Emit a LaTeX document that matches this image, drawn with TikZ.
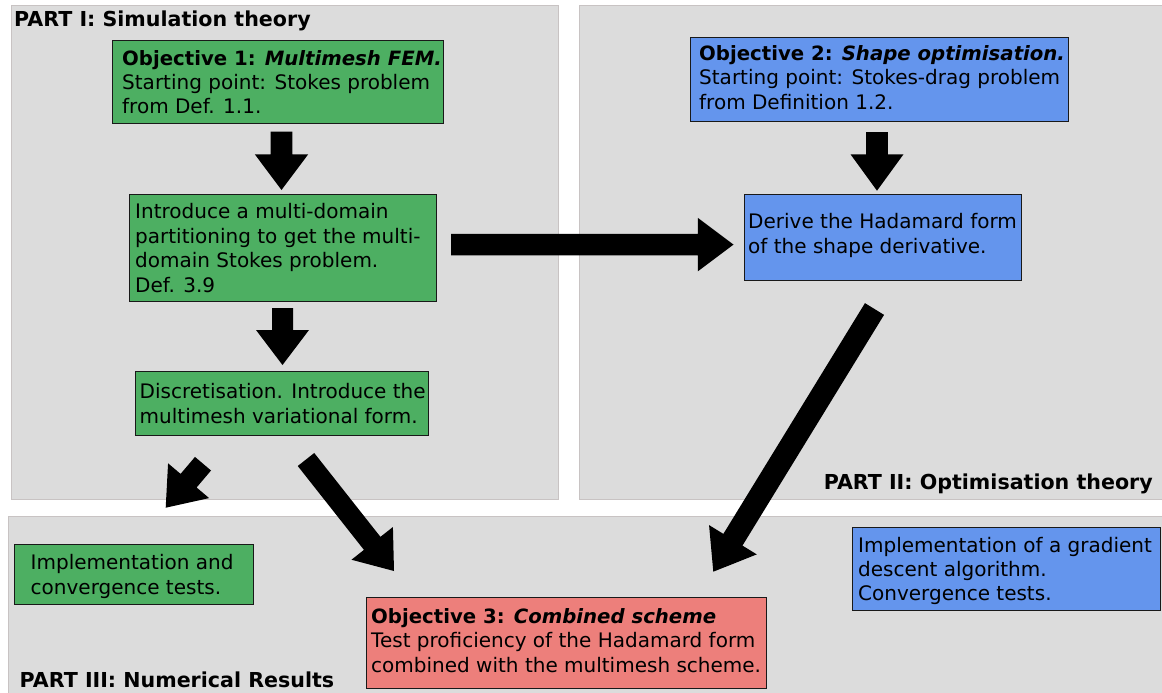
\documentclass[tikz,border=0pt]{standalone}
\usepackage{fontspec}
\setmainfont{DejaVu Sans}
\usetikzlibrary{calc}
\definecolor{panelfill}{HTML}{DCDCDC}
\definecolor{panelline}{HTML}{C8C3C3}
\definecolor{boxgreen}{HTML}{4DAF62}
\definecolor{boxblue}{HTML}{6495ED}
\definecolor{boxred}{HTML}{ED7F7B}
\newcommand\blockarrow[5]{%
  \coordinate (hb) at ($(#2)!#5!(#1)$);
  \fill[black] ($(#1)!#3!90:(#2)$) -- ($(hb)!#3!90:(#2)$) -- ($(hb)!#4!90:(#2)$) -- (#2)
    -- ($(hb)!#4!-90:(#2)$) -- ($(hb)!#3!-90:(#2)$) -- ($(#1)!#3!-90:(#2)$) -- cycle;}
\newcommand\lines[1]{\begin{tabular}{@{}l@{}}#1\end{tabular}}
\newcommand\ttl[1]{{\fontsize{19.7}{24.4}\selectfont\bfseries #1}}
\begin{document}
\begin{tikzpicture}[x=1pt,y=-1pt,
  panel/.style={draw=panelline, fill=panelfill, line width=1pt},
  box/.style={draw=black!90, line width=1.2pt, anchor=north west, inner sep=0pt},
  txt/.style={anchor=west, inner sep=0pt, yshift=-2.5pt, font=\fontsize{20}{24.4}\selectfont, align=left},
  lbl/.style={inner sep=0pt, font=\bfseries\fontsize{20.6}{24.4}\selectfont}]
\fill[white] (0,0) rectangle (1162,693);
\useasboundingbox (0,0) rectangle (1162,693);
% panels
\draw[panel] (11,6) rectangle (558,499);
\draw[panel] (579,6) rectangle (1163,499);
\draw[panel] (8,516) rectangle (1163,694);
\node[lbl, anchor=base west] (p1) at (14,26.8) {PART I: Simulation theory};
\node[lbl, anchor=base east] (p2) at (1153,489) {PART II: Optimisation theory};
\node[lbl, anchor=base west] (p3) at (19.5,687.5) {PART III: Numerical Results};
% boxes
\node[box, fill=boxgreen, minimum width=331pt, minimum height=83pt] (obj1) at (112,40) {};
\node[txt] (obj1t) at ([xshift=10pt]obj1.west) {\lines{\ttl{Objective 1: \textit{Multimesh FEM.}}\\ Starting point: Stokes problem\\ from Def. 1.1.}};
\node[box, fill=boxblue, minimum width=378pt, minimum height=84pt] (obj2) at (690,37) {};
\node[txt] (obj2t) at ([xshift=9pt,yshift=2pt]obj2.west) {\lines{\ttl{Objective 2: \textit{Shape optimisation.}}\\ Starting point: Stokes-drag problem\\ from Definition 1.2.}};
\node[box, fill=boxgreen, minimum width=307pt, minimum height=107pt] (intro) at (129,194) {};
\node[txt] (introt) at ([xshift=6pt]intro.west) {\lines{Introduce a multi-domain\\ partitioning to get the multi-\\ domain Stokes problem.\\ Def. 3.9}};
\node[box, fill=boxblue, minimum width=277pt, minimum height=86pt] (derive) at (744,194) {};
\node[txt] (derivet) at ([xshift=4pt,yshift=4pt]derive.west) {\lines{Derive the Hadamard form\\ of the shape derivative.}};
\node[box, fill=boxgreen, minimum width=293pt, minimum height=64pt] (disc) at (135,371) {};
\node[txt] (disct) at ([xshift=4.5pt]disc.west) {\lines{Discretisation. Introduce the\\ multimesh variational form.}};
\node[box, fill=boxgreen, minimum width=239pt, minimum height=60pt] (impl) at (14,544) {};
\node[txt] (implt) at ([xshift=16.5pt]impl.west) {\lines{Implementation and\\ convergence tests.}};
\node[box, fill=boxred, minimum width=400pt, minimum height=91pt] (obj3) at (366,597) {};
\node[txt] (obj3t) at ([xshift=5pt,yshift=2.5pt]obj3.west) {\lines{\ttl{Objective 3: \textit{Combined scheme}}\\ Test proficiency of the Hadamard form\\ combined with the multimesh scheme.}};
\node[box, fill=boxblue, minimum width=308pt, minimum height=83pt] (grad) at (852,527) {};
\node[txt] (gradt) at ([xshift=6pt]grad.west) {\lines{Implementation of a gradient\\ descent algorithm.\\ Convergence tests.}};
% arrows
\coordinate (a1s) at (281.5,131.7); \coordinate (a1e) at (281.5,190);
\coordinate (a2s) at (282.5,308);   \coordinate (a2e) at (282.5,365);
\coordinate (a3s) at (451,244.6);   \coordinate (a3e) at (733.5,244.6);
\coordinate (a4s) at (877,132);     \coordinate (a4e) at (877,190.7);
\coordinate (a5s) at (874.5,309);   \coordinate (a5e) at (713.3,571.7);
\coordinate (a6s) at (203,463.7);   \coordinate (a6e) at (165.7,507.7);
\coordinate (a7s) at (306,459.5);   \coordinate (a7e) at (394,571);
\blockarrow{a1s}{a1e}{10.8pt}{26.7pt}{35.7pt}
\blockarrow{a2s}{a2e}{10.5pt}{26.5pt}{35pt}
\blockarrow{a3s}{a3e}{10.8pt}{26.7pt}{35.6pt}
\blockarrow{a4s}{a4e}{10.8pt}{26.5pt}{36.4pt}
\blockarrow{a5s}{a5e}{11.2pt}{28pt}{37.5pt}
\blockarrow{a6s}{a6e}{10.5pt}{26.9pt}{35.4pt}
\blockarrow{a7s}{a7e}{10.5pt}{26.4pt}{35.2pt}
\end{tikzpicture}
\end{document}
